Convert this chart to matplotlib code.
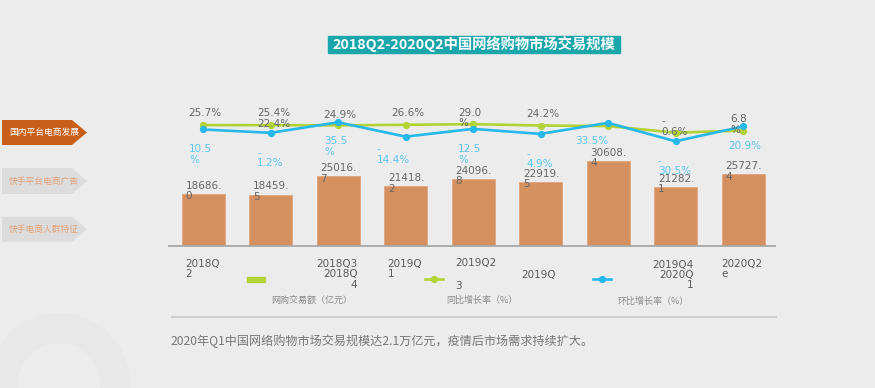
import matplotlib.pyplot as plt
import numpy as np
from matplotlib.patches import Polygon, Rectangle, Wedge

plt.rcParams['font.family'] = ['DejaVu Sans', 'Noto Sans CJK SC']

# dati: 2018Q2 - 2020Q2
quarters = ["2018Q2", "2018Q3", "2018Q4", "2019Q1", "2019Q2",
            "2019Q3", "2019Q4", "2020Q1", "2020Q2e"]
volume = [18686.0, 18459.5, 25016.7, 21418.2, 24096.8,
          22919.5, 30608.4, 21282.1, 25727.4]
yoy = [25.7, 25.4, 24.9, 26.6, 29.0, 24.2, 22.4, -0.6, 6.8]
qoq = [10.5, -1.2, 35.5, -14.4, 12.5, -4.9, 33.5, -30.5, 20.9]

W, H = 875, 388
bg = '#ececec'
bar_c = '#d4915f'
green = '#b2d235'
blue = '#27b8ea'
blue_txt = '#5cc6f0'
gray_txt = '#666666'

fig = plt.figure(figsize=(W / 100, H / 100), dpi=100, facecolor=bg)


def fx(px):
    return px / W


def fy(py):
    return 1 - py / H


# ========== grafico principale ==========
ax = fig.add_axes([fx(169), fy(246), fx(775) - fx(169), fy(100) - fy(246)])
ax.set_facecolor('none')
x = np.arange(len(quarters))
ax.bar(x, volume, width=0.637, color=bar_c, edgecolor='#e2a57a', linewidth=0.6, zorder=2)
ax.set_xlim(-0.504, 8.474)
ax.set_ylim(0, 146 * 359.5)
for s in ['top', 'right', 'left']:
    ax.spines[s].set_visible(False)
ax.spines['bottom'].set_color('#a8a8a8')
ax.spines['bottom'].set_linewidth(1.3)
ax.set_xticks([])
ax.set_yticks([])

# etichette valori delle barre (a capo dopo il punto)
for i, v in enumerate(volume):
    s = "%.1f" % v
    ax.annotate(s[:-1] + "\n" + s[-1], (i - 0.26, v), xytext=(0, 3),
                textcoords='offset pixels', ha='left', va='center',
                fontsize=7.5, color=gray_txt, linespacing=1.05, zorder=4)

# linee su asse secondario
ax2 = ax.twinx()
ax2.set_ylim(-394, 112.8)
ax2.axis('off')
ax2.plot(x, yoy, color=green, lw=1.9, marker='o', ms=4.2, zorder=3)
ax2.plot(x, qoq, color=blue, lw=1.9, marker='o', ms=4.2, zorder=4)

# ========== livello sovrapposto (coordinate in pixel) ==========
ov = fig.add_axes([0, 0, 1, 1], zorder=5)
ov.set_xlim(0, W)
ov.set_ylim(H, 0)
ov.axis('off')
ov.patch.set_alpha(0)


def wrap(v, mode):
    s = "%.1f%%" % v
    if mode == 'sign':
        return s[0] + "\n" + s[1:]
    if mode == 'pct':
        return s[:-1] + "\n%"
    return s


# posizioni delle etichette percentuali (sinistra, centro verticale)
yoy_pos = [(188, 113), (257, 113), (323, 115), (391, 113), (458, 118),
           (526, 114), (257, 124), (661, 126.7), (730, 124.7)]
yoy_mode = [None, None, None, None, 'pct', None, None, 'sign', 'pct']
qoq_pos = [(189, 154.5), (257, 158.3), (324, 146.7), (376.7, 154.5), (458, 154.5),
           (526.7, 159.2), (575, 141), (658, 166.3), (728, 146)]
qoq_mode = ['pct', 'sign', 'pct', 'sign', 'pct', 'sign', None, 'sign', None]

for v, (px, py), m in zip(yoy, yoy_pos, yoy_mode):
    ov.text(px, py, wrap(v, m), ha='left', va='center', fontsize=7.5,
            color=gray_txt, linespacing=1.05)
for v, (px, py), m in zip(qoq, qoq_pos, qoq_mode):
    ov.text(px, py, wrap(v, m), ha='left', va='center', fontsize=7.5,
            color=blue_txt, linespacing=1.05)

# etichette asse x (come nell'originale, spezzate)
q = quarters
xlab = [
    (185, 268.8, q[0][:5] + "\n" + q[0][5:], 'left'),
    (357.5, 274.5, q[1] + "\n" + q[2][:5] + "\n" + q[2][5:], 'right'),
    (387.7, 268.8, q[3][:5] + "\n" + q[3][5:], 'left'),
    (455, 263.3, q[4], 'left'),
    (455, 285.7, q[5][5:], 'left'),
    (521.7, 275, q[5][:5], 'left'),
    (693.3, 275, q[6] + "\n" + q[7][:5] + "\n" + q[7][5:], 'right'),
    (721.7, 269, q[8][:6] + "\n" + q[8][6:], 'left'),
]
for px, py, s, ha in xlab:
    ov.text(px, py, s, ha=ha, va='center', fontsize=7.5, color='#5a5a5a',
            linespacing=1.05, multialignment=ha)

# legenda
leg_txt = dict(fontsize=6.5, color='#8a8a8a', family=['Noto Sans CJK SC'], va='center', ha='left')
ov.add_patch(Rectangle((246.7, 276.7), 18.3, 5.6, color=green))
ov.text(271, 300, "网购交易额（亿元）", **leg_txt)
ov.plot([425, 443.3], [279.3, 279.3], color=green, lw=1.9)
ov.plot([434], [279.3], 'o', color=green, ms=4.2)
ov.text(446.7, 300, "同比增长率（%）", **leg_txt)
ov.plot([592.7, 610.7], [279.3, 279.3], color=blue, lw=1.9)
ov.plot([601.7], [279.3], 'o', color=blue, ms=4.2)
ov.text(617.3, 301.7, "环比增长率（%）", **leg_txt)

# separatore e commento
ov.plot([172, 775.7], [316.7, 316.7], color='#c8c8c8', lw=1.2)
ov.text(170.7, 340.7, "2020年Q1中国网络购物市场交易规模达2.1万亿元，疫情后市场需求持续扩大。",
        fontsize=8.7, color='#777777', family=['Noto Sans CJK SC', 'DejaVu Sans'],
        ha='left', va='center')

# titolo
ov.add_patch(Rectangle((328, 36), 292, 16.5, color='#1aa6aa'))
ov.text(474, 44.5, "2018Q2-2020Q2中国网络购物市场交易规模", fontsize=10.3, color='white',
        fontweight='bold', family=['Noto Sans CJK SC', 'DejaVu Sans'], ha='center', va='center')

# schede laterali
tabs = [("国内平台电商发展", 120, 145, '#c8601a', 'white'),
        ("快手平台电商广告", 168, 194, '#dcdcdc', '#e3a27a'),
        ("快手电商人群特征", 216.7, 241.7, '#dcdcdc', '#e3a27a')]
for label, t, b, fc, tc in tabs:
    m = (t + b) / 2
    ov.add_patch(Polygon([(2, t), (72, t), (87, m), (72, b), (2, b)], closed=True,
                         color=fc, lw=0))
    ov.text(9, m, label, fontsize=6.3, color=tc, family=['Noto Sans CJK SC'],
            ha='left', va='center')

# anello decorativo in basso a sinistra
ov.add_patch(Wedge((59, 384), 71, 0, 360, width=30, color='#e8e8e8', lw=0))

fig.savefig("out.png", dpi=100, facecolor=bg)
